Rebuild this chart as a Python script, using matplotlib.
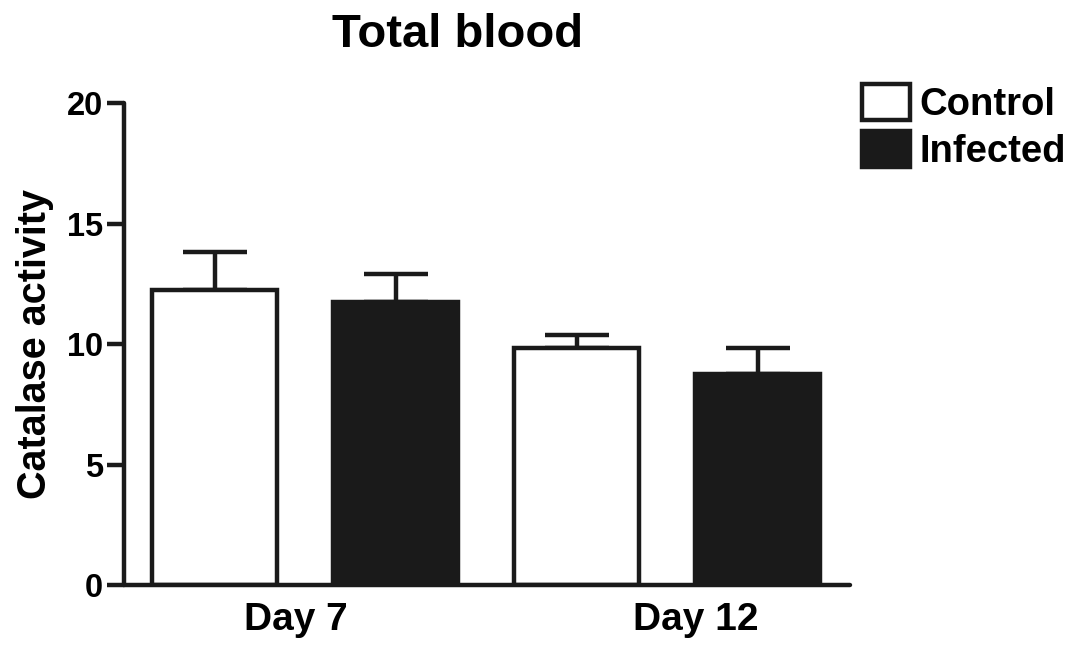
import numpy as np
import matplotlib.pyplot as plt
from matplotlib.patches import Patch

plt.rcParams['font.family'] = ['Liberation Sans', 'DejaVu Sans']
plt.rcParams['font.weight'] = 'bold'
plt.rcParams['axes.labelweight'] = 'bold'

days = ['Day 7', 'Day 12']
groups = ['Control', 'Infected']
control_mean = [12.24, 9.83]
control_sem = [1.58, 0.54]
infected_mean = [11.74, 8.76]
infected_sem = [1.16, 1.07]

ink = '#1a1a1a'
lw = 3.2

fig = plt.figure(figsize=(10.75, 6.45), dpi=100)
ax = fig.add_axes([0.1153, 0.093, 0.6754, 0.7473])

step = 1.448
x_ctrl = np.array([0, 2]) * step
x_inf = x_ctrl + step
means = [control_mean, infected_mean]
sems = [control_sem, infected_sem]
faces = ['white', ink]

for xs, m, s, fc in zip([x_ctrl, x_inf], means, sems, faces):
    ax.errorbar(xs, m, yerr=[np.zeros(len(m)), s], fmt='none', ecolor=ink,
                elinewidth=lw, capsize=23, capthick=lw, zorder=1)
    ax.bar(xs, m, width=1.0, color=fc, edgecolor=ink, linewidth=lw, zorder=2)

for ln in ax.lines:
    ln.set_solid_capstyle('round')

ax.set_xlim(-0.724, 5.08)
ax.set_ylim(0, 20)
ax.set_yticks([0, 5, 10, 15, 20])
ax.set_xticks([0.65, 3.85])
ax.set_xticklabels(days)
ax.tick_params(axis='x', length=0, pad=12, labelsize=28)
ax.tick_params(axis='y', length=12, width=lw, color=ink, pad=3, labelsize=23.5)
for side in ['top', 'right']:
    ax.spines[side].set_visible(False)
for side in ['left', 'bottom']:
    ax.spines[side].set_linewidth(lw)
    ax.spines[side].set_color(ink)
    ax.spines[side].set_capstyle('round')

ax.set_ylabel('Catalase activity', fontsize=28.5, labelpad=9)
fig.text(0.426, 0.946, 'Total blood', ha='center', va='center', fontsize=34, fontweight='bold')

handles = [Patch(facecolor=f, edgecolor=ink, linewidth=lw) for f in faces]
ax.legend(handles, groups, loc='upper left', bbox_to_anchor=(1.0165, 1.039),
          frameon=False, fontsize=27.5, handlelength=1.26, handleheight=1.05,
          handletextpad=0.25, labelspacing=0.22, borderpad=0, borderaxespad=0)

fig.savefig('out.png', dpi=100)
